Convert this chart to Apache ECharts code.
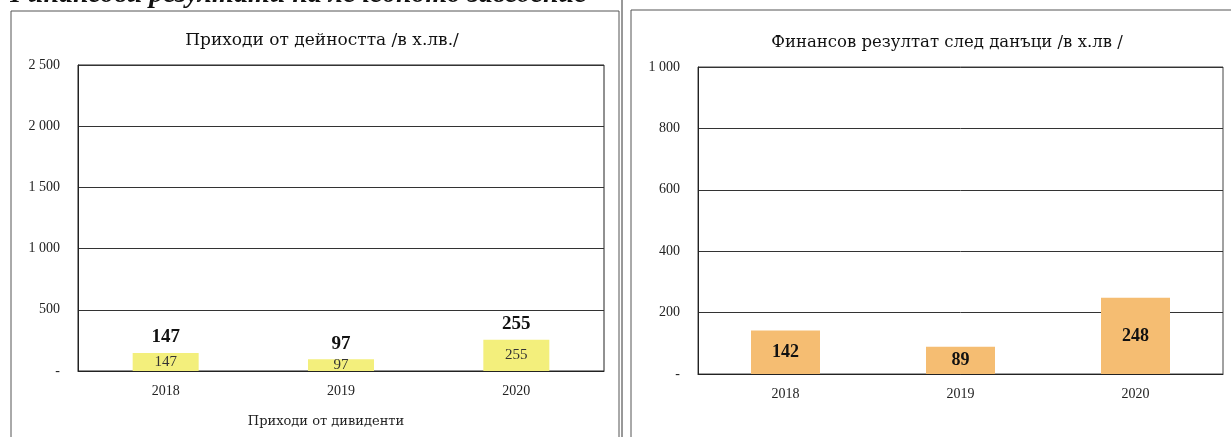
<!DOCTYPE html>
<html><head><meta charset="utf-8">
<script src="https://cdn.jsdelivr.net/npm/echarts@6/dist/echarts.min.js"></script>
<style>html,body{margin:0;padding:0;background:#fff}#c{width:1231px;height:437px}</style>
</head><body><div id="c"></div>
<script>
const categories = ['2018', '2019', '2020'];
const revenue = [147, 97, 255];
const profit = [142, 89, 248];
const leftTicks = [0, 500, 1000, 1500, 2000, 2500];
const rightTicks = [0, 200, 400, 600, 800, 1000];
const leftTitle = 'Приходи от дейността /в х.лв./';
const rightTitle = 'Финансов резултат след данъци /в х.лв /';
const legendText = 'Приходи от дивиденти';
const headerText = 'Финансови резултати на лечебното заведение';

const F = 'Liberation Serif';
const T = 'DejaVu Serif';
function fmt(v){ if (v === 0) return '-'; return String(v).replace(/\B(?=(\d{3})+(?!\d))/g, ' '); }

const chart = echarts.init(document.getElementById('c'));
const axisCommon = {
  axisLine:{show:true, lineStyle:{color:'#222', width:1}},
  axisTick:{show:false},
  axisLabel:{fontFamily:F, fontSize:14, color:'#222', formatter:fmt, margin:18},
  splitLine:{show:true, lineStyle:{color:'#333', width:1}}
};
chart.setOption({
  animation:false,
  textStyle:{fontFamily:F},
  title:[
    {text:leftTitle, left:317, top:27, textAlign:'center', textStyle:{fontFamily:T, fontSize:17, fontWeight:'normal', color:'#111'}},
    {text:rightTitle, left:942, top:29, textAlign:'center', textStyle:{fontFamily:T, fontSize:16.5, fontWeight:'normal', color:'#111'}}
  ],
  grid:[
    {left:78, right:627, top:65, bottom:66, show:true, borderColor:'#222', borderWidth:1},
    {left:698, right:8, top:67, bottom:63, show:true, borderColor:'#444', borderWidth:1}
  ],
  xAxis:[
    {type:'category', gridIndex:0, data:categories, axisLine:{lineStyle:{color:'#222'}}, axisTick:{show:false}, axisLabel:{fontFamily:F, fontSize:14, color:'#222', margin:13}},
    {type:'category', gridIndex:1, data:categories, axisLine:{lineStyle:{color:'#222'}}, axisTick:{show:false}, axisLabel:{fontFamily:F, fontSize:14, color:'#222', margin:13}}
  ],
  yAxis:[
    Object.assign({type:'value', gridIndex:0, min:leftTicks[0], max:leftTicks[leftTicks.length-1], interval:leftTicks[1]-leftTicks[0]}, axisCommon),
    Object.assign({type:'value', gridIndex:1, min:rightTicks[0], max:rightTicks[rightTicks.length-1], interval:rightTicks[1]-rightTicks[0]}, axisCommon)
  ],
  series:[
    {type:'bar', xAxisIndex:0, yAxisIndex:0, data:revenue, barWidth:66, itemStyle:{color:'#f3ef7c'},
     label:{show:true, position:'inside', fontFamily:F, fontSize:15, color:'#333'}},
    {type:'bar', xAxisIndex:0, yAxisIndex:0, data:revenue, barWidth:66, barGap:'-100%', itemStyle:{color:'rgba(0,0,0,0)'},
     label:{show:true, position:'top', distance:6, fontFamily:F, fontSize:19, fontWeight:'bold', color:'#111'}},
    {type:'bar', xAxisIndex:1, yAxisIndex:1, data:profit, barWidth:69, itemStyle:{color:'#f5bd72'},
     label:{show:true, position:'inside', fontFamily:F, fontSize:18, fontWeight:'bold', color:'#111'}}
  ],
  graphic:[
    {type:'text', left:4, top:-19, style:{text:headerText, font:'italic bold 28px "Liberation Serif"', fill:'#111'}},
    {type:'polyline', shape:{points:[[11,437],[11,11],[619,11],[619,437]]}, style:{stroke:'#555', fill:null, lineWidth:1}},
    {type:'line', shape:{x1:622,y1:0,x2:622,y2:437}, style:{stroke:'#333', lineWidth:1}},
    {type:'polyline', shape:{points:[[631,437],[631,10],[1231,10]]}, style:{stroke:'#555', fill:null, lineWidth:1}},
    {type:'text', x:326, y:415, style:{text:legendText, font:'13px "DejaVu Serif"', fill:'#222', align:'center'}}
  ]
});
</script></body></html>
